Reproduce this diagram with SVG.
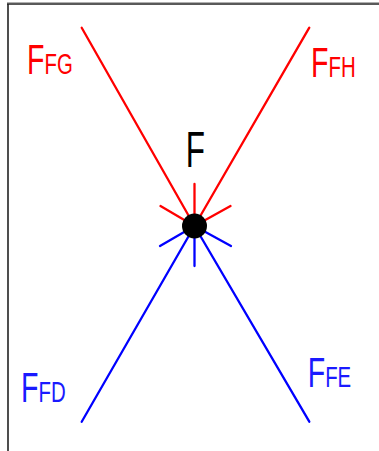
<svg xmlns="http://www.w3.org/2000/svg" width="379" height="451" viewBox="0 0 379 451">
  <style>
    .red { stroke: #ff0000; stroke-width: 2.3; fill: none; stroke-linecap: round; }
    .blue { stroke: #0000ff; stroke-width: 2.3; fill: none; stroke-linecap: round; }
    .frame { stroke: #222222; stroke-width: 1.6; fill: none; }
    text { font-family: "Liberation Sans", Arial, sans-serif; }
    .tr { fill: #ff0000; }
    .tb { fill: #1a1aff; }
    .big { font-size: 42px; }
    .small { font-size: 30px; }
  </style>
  <rect width="379" height="451" fill="#ffffff"/>
  <g id="frame">
    <line x1="7" y1="2.5" x2="379" y2="2.5" stroke="#b0b0b0" stroke-width="1"/>
    <line class="frame" x1="7" y1="4" x2="379" y2="4"/>
    <line class="frame" x1="8" y1="4" x2="8" y2="451"/>
  </g>
  <g id="connectors">
    <line class="red" x1="81.7" y1="27.7" x2="194.5" y2="226"/>
    <line class="red" x1="309.3" y1="27.7" x2="194.5" y2="226"/>
    <line class="blue" x1="81.7" y1="421.7" x2="194.5" y2="226"/>
    <line class="blue" x1="309.3" y1="421.7" x2="194.5" y2="226"/>
    <line class="red" x1="194.5" y1="184" x2="194.5" y2="226"/>
    <line class="red" x1="160.5" y1="206" x2="194.5" y2="226"/>
    <line class="red" x1="230.5" y1="206" x2="194.5" y2="226"/>
    <line class="blue" x1="160" y1="246" x2="194.5" y2="226"/>
    <line class="blue" x1="194.5" y1="266" x2="194.5" y2="226"/>
    <line class="blue" x1="231" y1="246" x2="194.5" y2="226"/>
  </g>
  <g id="node-F">
    <circle cx="194.5" cy="226" r="12.5" fill="#000000"/>
    <text x="185.7" y="167" font-size="50" fill="#000000" textLength="19.2" lengthAdjust="spacingAndGlyphs">F</text>
  </g>
  <g id="label-FFG">
    <text class="tr" transform="translate(27,74) scale(0.68,1)"><tspan class="big">F</tspan><tspan class="small">FG</tspan></text>
  </g>
  <g id="label-FFH">
    <text class="tr" transform="translate(311,77.3) scale(0.68,1)"><tspan class="big">F</tspan><tspan class="small">FH</tspan></text>
  </g>
  <g id="label-FFD">
    <text class="tb" transform="translate(21,401.7) scale(0.68,1)"><tspan class="big">F</tspan><tspan class="small">FD</tspan></text>
  </g>
  <g id="label-FFE">
    <text class="tb" transform="translate(307.7,386.7) scale(0.68,1)"><tspan class="big">F</tspan><tspan class="small">FE</tspan></text>
  </g>
</svg>
